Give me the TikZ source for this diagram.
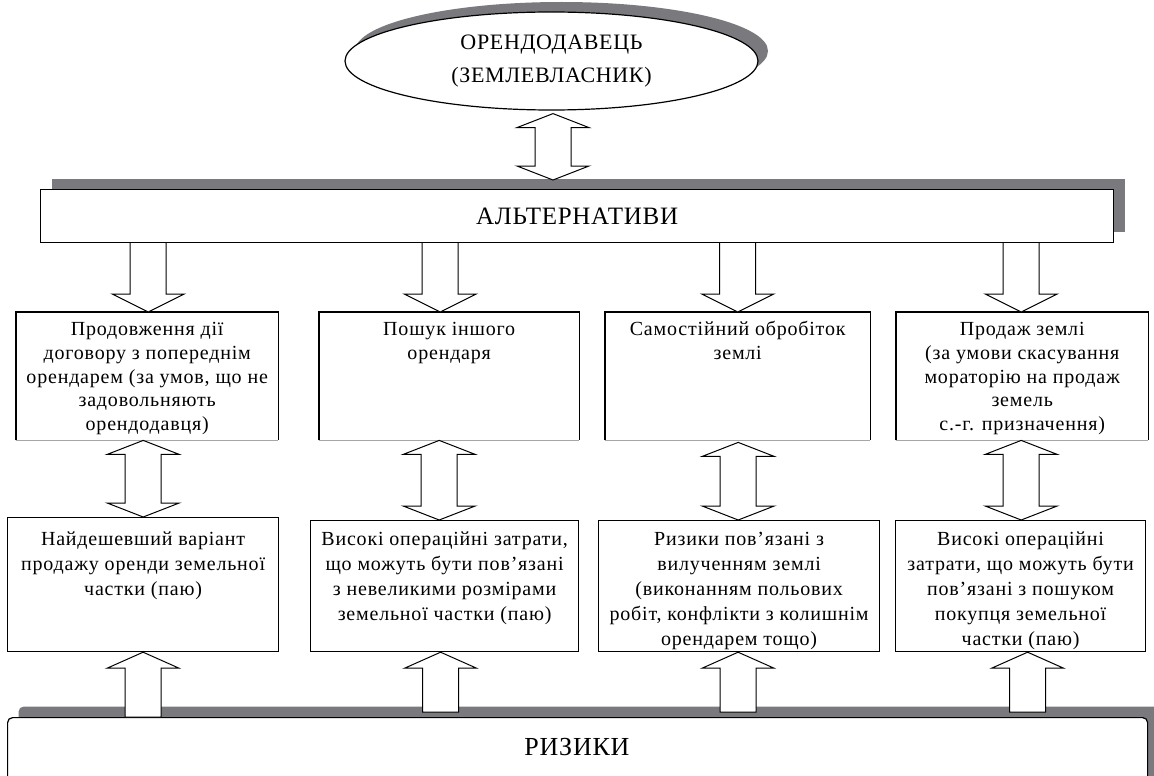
\documentclass[tikz,border=0pt]{standalone}
\usepackage{fontspec}
\setmainfont{Liberation Serif}
\usetikzlibrary{shapes.geometric,shadows,calc}
\definecolor{shgray}{HTML}{7A7A7E}

\tikzset{
  frame/.style={draw=black, line width=1.2pt, fill=white, inner sep=0pt},
  cell/.style={inner sep=0pt, anchor=north west},
  edge/.style={draw=black, line width=1.2pt},
  faintedge/.style={draw=black!35, line width=0.8pt},
  blk/.style={draw=black, line width=1pt, fill=white, line join=miter},
  grayshadow/.style={drop shadow={shadow xshift=#1, shadow yshift=#1, fill=shgray, opacity=1}},
  headfont/.style={font=\fontsize{#1}{33}\selectfont\addfontfeatures{LetterSpace=3}},
  toptext/.style={align=center, inner sep=0pt, anchor=north,
    font=\fontsize{20}{23.7}\selectfont\addfontfeatures{LetterSpace=4}},
  lowtext/.style={align=center, inner sep=0pt, anchor=north,
    font=\fontsize{20}{25}\selectfont\addfontfeatures{LetterSpace=4}},
}

% block arrow pointing down from #1 to #2, axis shifted by #3 from the target centre
\newcommand\DownBlock[3]{%
  \draw[blk] let \p1=(#1.south), \p2=($(#2.north)+(#3,0)$) in
    (\x2-18pt,\y1) -- (\x2-18pt,\y2+18pt) -- (\x2-36pt,\y2+18pt) -- (\x2,\y2)
    -- (\x2+36pt,\y2+18pt) -- (\x2+18pt,\y2+18pt) -- (\x2+18pt,\y1);}

% block arrow pointing up from #1 to #2; #3 axis shift, #4 lift of the foot
\newcommand\UpBlock[4]{%
  \draw[blk] let \p1=(#1.north), \p2=($(#2.south)+(#3,0)$) in
    (\x2-18pt,\y1+#4pt) -- (\x2-18pt,\y2-16pt) -- (\x2-36pt,\y2-16pt) -- (\x2,\y2)
    -- (\x2+36pt,\y2-16pt) -- (\x2+18pt,\y2-16pt) -- (\x2+18pt,\y1+#4pt) -- cycle;}

% two-headed block arrow between #1 (above) and #2 (below)
\newcommand\TwinBlock[5]{%
  \draw[blk] let \p1=($(#1.south)+(#3,0)$), \p2=(#2.north) in
    (\x1,\y1-#4pt) -- (\x1+36pt,\y1-#4pt-14pt) -- (\x1+18pt,\y1-#4pt-14pt)
    -- (\x1+18pt,\y2+#5pt+14pt) -- (\x1+36pt,\y2+#5pt+14pt) -- (\x1,\y2+#5pt)
    -- (\x1-36pt,\y2+#5pt+14pt) -- (\x1-18pt,\y2+#5pt+14pt)
    -- (\x1-18pt,\y1-#4pt-14pt) -- (\x1-36pt,\y1-#4pt-14pt) -- cycle;}

\begin{document}
\begin{tikzpicture}[x=1pt,y=-1pt]
\useasboundingbox (0,0) rectangle (1154,776);
\clip (0,0) rectangle (1154,776);
\fill[white] (0,0) rectangle (1154,776);

% land owner
\node[ellipse, frame, grayshadow=10pt, minimum width=413pt, minimum height=98pt,
      align=center, headfont=22] (owner) at (551.5,61)
      {ОРЕНДОДАВЕЦЬ\\(ЗЕМЛЕВЛАСНИК)};

% alternatives bar
\node[frame, grayshadow=11pt, anchor=north west, minimum width=1073pt,
      minimum height=53pt, headfont=25] (alt) at (40,189) {АЛЬТЕРНАТИВИ};

% risks bar
\node[frame, grayshadow=11pt, rounded corners=5pt, anchor=north west,
      minimum width=1140pt, minimum height=110pt] (ris) at (7,717) {};
\node[headfont=26] (rislbl) at (577,747) {РИЗИКИ};

% alternatives row
\node[cell, minimum width=262pt, minimum height=128pt] (b1) at (16,312) {};
\node[cell, minimum width=260pt, minimum height=128pt] (b2) at (319,312) {};
\node[cell, minimum width=265pt, minimum height=128pt] (b3) at (605,312) {};
\node[cell, minimum width=252pt, minimum height=128pt] (b4) at (896,312) {};
\foreach \b in {b1,b2,b3,b4}{
  \draw[edge] (\b.south west) -- (\b.north west) -- (\b.north east) -- (\b.south east);
  \draw[faintedge] (\b.south west) -- (\b.south east);
}
\node[toptext] (tb1) at ([yshift=-7pt]b1.north)
  {\strut Продовження дії\\договору з попереднім\\орендарем (за умов, що не\\задовольняють\\орендодавця)};
\node[toptext] (tb2) at ([yshift=-7pt]b2.north) {\strut Пошук іншого\\орендаря};
\node[toptext] (tb3) at ([yshift=-7pt]b3.north) {\strut Самостійний обробіток\\землі};
\node[toptext] (tb4) at ([yshift=-7pt]b4.north)
  {\strut Продаж землі\\(за умови скасування\\мораторію на продаж\\земель\\с.-г. призначення)};

% risks row
\node[cell, frame, minimum width=271pt, minimum height=134pt] (r1) at (7,517) {};
\node[cell, frame, minimum width=268pt, minimum height=131pt] (r2) at (310,520) {};
\node[cell, frame, minimum width=281pt, minimum height=131pt] (r3) at (598,520) {};
\node[cell, frame, minimum width=250pt, minimum height=131pt] (r4) at (895,520) {};
\node[lowtext] (tr1) at ([yshift=-11pt]r1.north)
  {\strut Найдешевший варіант\\продажу оренди земельної\\частки (паю)};
\node[lowtext] (tr2) at ([yshift=-8pt]r2.north)
  {\strut Високі операційні затрати,\\що можуть бути пов’язані\\з невеликими розмірами\\земельної частки (паю)};
\node[lowtext] (tr3) at ([yshift=-8pt]r3.north)
  {\strut Ризики пов’язані з\\вилученням землі\\(виконанням польових\\робіт, конфлікти з колишнім\\орендарем тощо)};
\node[lowtext] (tr4) at ([yshift=-8pt]r4.north)
  {\strut Високі операційні\\затрати, що можуть бути\\пов’язані з пошуком\\покупця земельної\\частки (паю)};

% connectors
\TwinBlock{owner}{alt}{1.5}{3}{9}
\DownBlock{alt}{b1}{1}
\DownBlock{alt}{b2}{-9}
\DownBlock{alt}{b3}{0}
\DownBlock{alt}{b4}{-1}
\TwinBlock{b1}{r1}{-4}{0}{0}
\TwinBlock{b2}{r2}{-10}{0}{0}
\TwinBlock{b3}{r3}{0.5}{2}{0}
\TwinBlock{b4}{r4}{-1}{0}{0}
\UpBlock{ris}{r1}{0}{0}
\UpBlock{ris}{r2}{-4}{5}
\UpBlock{ris}{r3}{-1}{5}
\UpBlock{ris}{r4}{7}{5}
\end{tikzpicture}
\end{document}
